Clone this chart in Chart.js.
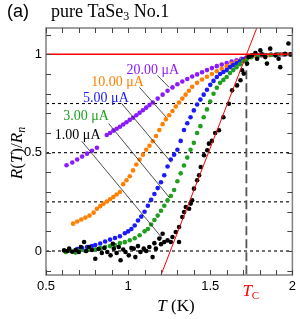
<!DOCTYPE html>
<html>
<head>
<meta charset="utf-8">
<script src="https://cdn.jsdelivr.net/npm/chart.js@4.4.0/dist/chart.umd.min.js"></script>
<style>
html, body { margin: 0; padding: 0; background: #fff; }
#wrap { width: 300px; height: 319px; }
</style>
</head>
<body>
<div id="wrap"><canvas id="tc-chart" width="300" height="319"></canvas></div>
<script>

// --- data: T (K) and R(T)/Rn ---

const t20 = [0.625,0.66,0.69,0.72,0.75,0.78,0.81,0.87,0.89,0.91,0.93,0.95,0.97,0.99,1.01,1.03,1.05,1.07,1.09,1.11,1.13,1.15,1.18,1.21,1.24,1.27,1.30,1.33,1.36,1.39,1.42,1.45,1.48,1.51,1.54,1.57,1.60,1.63,1.66,1.69,1.72,1.75,1.78,1.81,1.84,1.87,1.90,1.93,1.96,1.99];
const r20 = [0.436,0.45,0.465,0.48,0.495,0.51,0.525,0.59,0.60,0.612,0.622,0.632,0.643,0.655,0.667,0.678,0.69,0.703,0.716,0.729,0.742,0.755,0.775,0.795,0.815,0.832,0.848,0.862,0.875,0.887,0.898,0.909,0.92,0.93,0.94,0.948,0.956,0.963,0.97,0.977,0.983,0.988,0.992,0.995,0.997,0.998,0.999,1.0,1.0,1.0];

const t10 = [0.665,0.69,0.715,0.74,0.765,0.79,0.81,0.83,0.85,0.87,0.89,0.91,0.93,0.95,0.97,0.99,1.01,1.03,1.05,1.07,1.09,1.11,1.13,1.15,1.17,1.19,1.21,1.23,1.25,1.27,1.29,1.31,1.33,1.35,1.37,1.39,1.42,1.45,1.48,1.51,1.54,1.57,1.60,1.63,1.66,1.69,1.72,1.75,1.78,1.82,1.86,1.90,1.94,1.98];
const r10 = [0.139,0.15,0.16,0.17,0.18,0.195,0.215,0.228,0.24,0.252,0.263,0.275,0.287,0.30,0.34,0.36,0.38,0.41,0.44,0.465,0.49,0.515,0.535,0.558,0.585,0.615,0.645,0.67,0.69,0.712,0.735,0.755,0.775,0.795,0.815,0.835,0.855,0.872,0.886,0.90,0.914,0.927,0.94,0.952,0.962,0.972,0.98,0.986,0.99,0.994,0.996,0.998,1.0,1.0];

const t5 = [0.69,0.72,0.75,0.78,0.80,0.83,0.86,0.89,0.92,0.95,0.98,1.00,1.02,1.04,1.06,1.08,1.10,1.12,1.14,1.16,1.18,1.20,1.22,1.24,1.26,1.28,1.30,1.32,1.34,1.36,1.38,1.40,1.42,1.44,1.46,1.48,1.50,1.52,1.54,1.56,1.58,1.60,1.62,1.64,1.66,1.68,1.70,1.72,1.75,1.79,1.83,1.87,1.91,1.95,1.99];
const r5 = [0.01,0.015,0.02,0.025,0.03,0.038,0.048,0.058,0.066,0.075,0.09,0.10,0.112,0.13,0.155,0.175,0.20,0.23,0.26,0.29,0.32,0.35,0.385,0.43,0.465,0.49,0.515,0.56,0.615,0.65,0.68,0.715,0.745,0.77,0.795,0.82,0.845,0.865,0.885,0.90,0.91,0.92,0.935,0.945,0.955,0.965,0.975,0.983,0.99,0.995,0.997,0.998,0.999,1.0,1.0];

const t3 = [0.62,0.65,0.68,0.71,0.74,0.77,0.80,0.83,0.86,0.89,0.92,0.95,0.98,1.01,1.04,1.07,1.10,1.12,1.14,1.16,1.18,1.20,1.22,1.24,1.26,1.28,1.30,1.32,1.34,1.36,1.38,1.40,1.42,1.44,1.46,1.48,1.50,1.52,1.54,1.56,1.58,1.60,1.62,1.64,1.66,1.68,1.70,1.72,1.75,1.79,1.83,1.87,1.91,1.95,1.99];
const r3 = [-0.005,0.0,-0.008,0.005,0.0,0.01,0.008,0.015,0.02,0.025,0.03,0.04,0.045,0.055,0.065,0.08,0.10,0.112,0.135,0.158,0.18,0.205,0.23,0.258,0.28,0.31,0.355,0.395,0.435,0.475,0.515,0.55,0.60,0.635,0.68,0.72,0.76,0.80,0.83,0.855,0.87,0.885,0.905,0.92,0.935,0.95,0.965,0.972,0.985,0.99,0.995,0.998,1.0,1.0,1.0];

const t1 = [0.61,0.63,0.641,0.66,0.68,0.70,0.712,0.732,0.745,0.762,0.78,0.80,0.82,0.84,0.855,0.873,0.893,0.907,0.913,0.93,0.943,0.954,0.97,0.984,1.004,1.02,1.034,1.044,1.06,1.075,1.095,1.11,1.129,1.149,1.16,1.169,1.19,1.20,1.21,1.22,1.24,1.26,1.27,1.29,1.31,1.31,1.33,1.341,1.351,1.371,1.381,1.39,1.401,1.42,1.432,1.442,1.462,1.482,1.492,1.51,1.53,1.553,1.58,1.613,1.633,1.663,1.684,1.694,1.704,1.724,1.734,1.754,1.775,1.785,1.805,1.815,1.835,1.845,1.865,1.896,1.916,1.926,1.956,1.976,1.99];
const r1 = [0.003,0.0,0.012,-0.004,0.005,-0.005,0.02,0.046,0.0,0.02,0.005,-0.039,0.01,-0.01,0.015,-0.005,-0.022,0.037,0.012,-0.01,0.02,-0.047,0.008,-0.005,-0.022,0.015,0.012,-0.031,0.025,-0.005,0.012,0.0,0.02,-0.031,0.04,0.012,0.063,0.035,0.088,0.046,0.054,0.046,0.071,0.097,0.046,0.122,0.173,0.198,0.224,0.215,0.241,0.258,0.317,0.36,0.385,0.427,0.487,0.512,0.546,0.56,0.60,0.614,0.68,0.749,0.817,0.842,0.868,0.919,0.902,0.953,0.986,0.995,1.007,0.978,1.02,1.0,0.986,0.953,1.029,0.995,0.978,0.935,1.003,1.055,1.0];

// reference lines
const normalT = [0.5, 2.0], normalR = [1, 1];
const slopeT = [1.15, 1.83], slopeR = [-0.23, 1.235];
const levels = [0, 0.25, 0.5, 0.75];
const tcValue = 1.72, tcR = [0.985, -0.13];

// axes
const xTickVals = [0.5,0.6,0.7,0.8,0.9,1.0,1.1,1.2,1.3,1.4,1.5,1.6,1.7,1.8,1.9,2.0];
const xMajor = [0.5, 1, 1.5, 2], xMajorLabels = ['0.5', '1', '1.5', '2'];
const yTickVals = [-0.1,0,0.1,0.2,0.3,0.4,0.5,0.6,0.7,0.8,0.9,1.0,1.1];
const yMajor = [0, 0.5, 1], yMajorLabels = ['0', '0.5', '1'];

const SERIF = "'Liberation Serif', 'Times New Roman', serif";
const SANS = "'Liberation Sans', Arial, sans-serif";

// current labels with leader lines (in data coords)
const currentLabels = [
    { text: '20.00 \u03bcA', color: '#8c1aff', at: [0.99, 0.901],  from: [1.178, 0.893], to: [1.250, 0.832] },
    { text: '10.00 \u03bcA', color: '#ff8000', at: [0.776, 0.837], from: [1.069, 0.832], to: [1.232, 0.680] },
    { text: '5.00 \u03bcA',  color: '#1a1aff', at: [0.726, 0.757], from: [0.960, 0.751], to: [1.262, 0.451] },
    { text: '3.00 \u03bcA',  color: '#1f9e1f', at: [0.605, 0.668], from: [0.881, 0.649], to: [1.250, 0.273] },
    { text: '1.00 \u03bcA',  color: '#000000', at: [0.554, 0.571], from: [0.718, 0.558], to: [1.208, 0.065] }
];

const pts = (ts, rs) => ts.map((t, i) => ({ x: t, y: rs[i] }));

function dotSet(label, ts, rs, color, order) {
    return {
        label: label,
        data: pts(ts, rs),
        backgroundColor: color,
        borderWidth: 0,
        pointRadius: 2.3,
        pointHoverRadius: 2.3,
        order: order
    };
}

function lineSet(ts, rs, color, width, dash, order) {
    return {
        data: pts(ts, rs),
        showLine: true,
        borderColor: color,
        borderWidth: width,
        borderDash: dash,
        pointRadius: 0,
        fill: false,
        order: order
    };
}

const datasets = [
    dotSet('1.00 uA', t1, r1, '#000000', 1),
    dotSet('3.00 uA', t3, r3, '#1f9e1f', 2),
    dotSet('5.00 uA', t5, r5, '#1a1aff', 3),
    dotSet('10.00 uA', t10, r10, '#ff8000', 4),
    dotSet('20.00 uA', t20, r20, '#8c1aff', 5),
    lineSet(normalT, normalR, '#ff0000', 1.5, [], 0),
    lineSet(slopeT, slopeR, '#ff0000', 1, [], 0),
    lineSet([tcValue, tcValue], tcR, '#555555', 1.8, [9, 4], 9)
];
levels.forEach(v => datasets.push(lineSet([0.5, 2.0], [v, v], '#000000', 1.1, [3, 3], 10)));

// draw a row of text pieces: [text, font, dy]
function richText(c, parts, x, y, align) {
    let w = 0;
    parts.forEach(p => { c.font = p[1]; w += c.measureText(p[0]).width; });
    let cx = align === 'center' ? x - w / 2 : x;
    parts.forEach(p => {
        c.font = p[1];
        c.fillText(p[0], cx, y + (p[2] || 0));
        cx += c.measureText(p[0]).width;
    });
}

const decorations = {
    id: 'decorations',
    afterDatasetsDraw(chart) {
        const c = chart.ctx,
            sx = chart.scales.x,
            sy = chart.scales.y,
            a = chart.chartArea;

        c.save();

        // frame
        c.strokeStyle = '#808080';
        c.lineWidth = 1.5;
        c.strokeRect(a.left, a.top, a.right - a.left, a.bottom - a.top);

        // inward ticks
        c.strokeStyle = '#444';
        c.lineWidth = 1;
        c.beginPath();
        xTickVals.forEach(v => {
            const px = Math.round(sx.getPixelForValue(v)) + 0.5;
            c.moveTo(px, a.bottom); c.lineTo(px, a.bottom - 5);
            c.moveTo(px, a.top); c.lineTo(px, a.top + 5);
        });
        yTickVals.forEach(v => {
            const py = Math.round(sy.getPixelForValue(v)) + 0.5;
            c.moveTo(a.left, py); c.lineTo(a.left + 5, py);
            c.moveTo(a.right, py); c.lineTo(a.right - 5, py);
        });
        c.stroke();

        // leader lines + current labels
        c.strokeStyle = '#222';
        c.lineWidth = 0.8;
        c.textBaseline = 'alphabetic';
        currentLabels.forEach(l => {
            c.beginPath();
            c.moveTo(sx.getPixelForValue(l.from[0]), sy.getPixelForValue(l.from[1]));
            c.lineTo(sx.getPixelForValue(l.to[0]), sy.getPixelForValue(l.to[1]));
            c.stroke();
            c.fillStyle = l.color;
            c.font = '14px ' + SERIF;
            c.fillText(l.text, sx.getPixelForValue(l.at[0]), sy.getPixelForValue(l.at[1]));
        });

        // title
        c.fillStyle = '#000';
        c.font = '18px ' + SANS;
        c.fillText('(a)', 7, 17);
        richText(c, [
            ['pure TaSe', '18px ' + SERIF],
            ['3', '12px ' + SERIF, 3],
            [' No.1', '18px ' + SERIF]
        ], 51, 17, 'left');

        // x title
        richText(c, [
            ['T', 'italic 17px ' + SERIF],
            [' (K)', '17px ' + SERIF]
        ], 176, 311, 'center');

        // Tc label
        c.fillStyle = '#ff0000';
        richText(c, [
            ['T', 'italic 17px ' + SERIF],
            ['C', '11px ' + SERIF, 3]
        ], sx.getPixelForValue(tcValue) - 4, 296, 'left');

        // y title
        c.fillStyle = '#000';
        c.translate(22, 153);
        c.rotate(-Math.PI / 2);
        richText(c, [
            ['R', 'italic 17px ' + SERIF],
            ['(', '17px ' + SERIF],
            ['T', 'italic 17px ' + SERIF],
            [')/', '17px ' + SERIF],
            ['R', 'italic 17px ' + SERIF],
            ['n', 'italic 12px ' + SERIF, 3]
        ], 0, 0, 'center');

        c.restore();
    }
};

const ctx = document.getElementById('tc-chart').getContext('2d');
const tcChart = new Chart(ctx, {
    type: 'scatter',
    data: { datasets: datasets },
    options: {
        responsive: false,
        animation: false,
        layout: { padding: { top: 28, right: 6, left: 0, bottom: 0 } },
        plugins: {
            legend: { display: false },
            tooltip: { enabled: false }
        },
        scales: {
            x: {
                type: 'linear',
                min: 0.5,
                max: 2.0,
                afterBuildTicks: s => { s.ticks = xTickVals.map(v => ({ value: v })); },
                afterFit: s => { s.height = 44; },
                grid: { display: false, drawTicks: false },
                border: { display: false },
                ticks: {
                    autoSkip: false,
                    maxRotation: 0,
                    padding: 4,
                    color: '#000',
                    font: { family: SANS, size: 13 },
                    callback: v => {
                        const i = xMajor.indexOf(Math.round(v * 10) / 10);
                        return i >= 0 ? xMajorLabels[i] : '';
                    }
                }
            },
            y: {
                type: 'linear',
                min: -0.122,
                max: 1.134,
                afterBuildTicks: s => { s.ticks = yTickVals.map(v => ({ value: v })); },
                afterFit: s => { s.width = 46; },
                grid: { display: false, drawTicks: false },
                border: { display: false },
                ticks: {
                    autoSkip: false,
                    padding: 4,
                    color: '#000',
                    font: { family: SANS, size: 13 },
                    callback: v => {
                        const i = yMajor.indexOf(Math.round(v * 10) / 10);
                        return i >= 0 ? yMajorLabels[i] : '';
                    }
                }
            }
        }
    },
    plugins: [decorations]
});
</script>
</body>
</html>
